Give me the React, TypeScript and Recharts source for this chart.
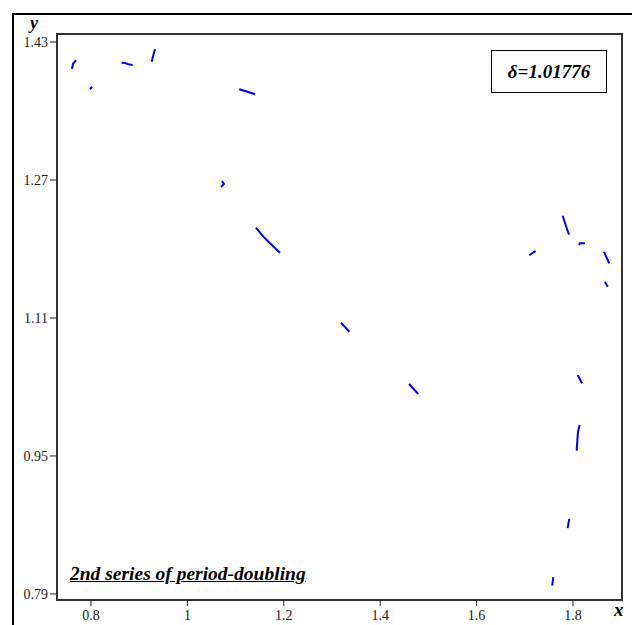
import { LineChart, Line, XAxis, YAxis, ReferenceArea } from "recharts";

// axis setup
const X_TICKS = [0.8, 1, 1.2, 1.4, 1.6, 1.8];
const Y_TICKS = [0.79, 0.95, 1.11, 1.27, 1.43];
const X_DOMAIN: [number, number] = [0.7295, 1.9017];
const Y_DOMAIN: [number, number] = [0.783, 1.4393];

// short curve pieces of the bifurcation diagram
const seg01 = [{ x: 0.7689, y: 1.4091 }, { x: 0.7627, y: 1.4045 }, { x: 0.7606, y: 1.3987 }];
const seg02 = [{ x: 0.8021, y: 1.3782 }, { x: 0.7979, y: 1.3751 }];
const seg03 = [{ x: 0.8637, y: 1.406 }, { x: 0.8714, y: 1.4057 }, { x: 0.8776, y: 1.4041 }, { x: 0.8865, y: 1.4033 }];
const seg04 = [{ x: 0.9328, y: 1.4215 }, { x: 0.9295, y: 1.415 }, { x: 0.9259, y: 1.4072 }];
const seg05 = [{ x: 1.1077, y: 1.3752 }, { x: 1.1245, y: 1.3724 }, { x: 1.1402, y: 1.3694 }];
const seg06 = [{ x: 1.0718, y: 1.2688 }, { x: 1.0759, y: 1.2654 }, { x: 1.0697, y: 1.2619 }];
const seg07 = [{ x: 1.1423, y: 1.2147 }, { x: 1.1575, y: 1.2043 }, { x: 1.1714, y: 1.1966 }, { x: 1.1921, y: 1.1857 }];
const seg08 = [{ x: 1.3187, y: 1.1046 }, { x: 1.3359, y: 1.0941 }];
const seg09 = [{ x: 1.4598, y: 1.0335 }, { x: 1.479, y: 1.0219 }];
const seg10 = [{ x: 1.7094, y: 1.183 }, { x: 1.7226, y: 1.1877 }];
const seg11 = [{ x: 1.7786, y: 1.2286 }, { x: 1.7851, y: 1.2172 }, { x: 1.7917, y: 1.2066 }];
const seg12 = [{ x: 1.8124, y: 1.1946 }, { x: 1.8145, y: 1.1967 }, { x: 1.8249, y: 1.1967 }];
const seg13 = [{ x: 1.8643, y: 1.1867 }, { x: 1.8698, y: 1.18 }, { x: 1.8753, y: 1.1734 }];
const seg14 = [{ x: 1.8664, y: 1.1521 }, { x: 1.872, y: 1.1463 }];
const seg15 = [{ x: 1.8097, y: 1.0439 }, { x: 1.8187, y: 1.0343 }];
const seg16 = [{ x: 1.8139, y: 0.986 }, { x: 1.8104, y: 0.9782 }, { x: 1.8089, y: 0.9666 }, { x: 1.8077, y: 0.9561 }];
const seg17 = [{ x: 1.7923, y: 0.877 }, { x: 1.7889, y: 0.8663 }];
const seg18 = [{ x: 1.7591, y: 0.8094 }, { x: 1.757, y: 0.7998 }];

const SEGMENTS = [
  seg01, seg02, seg03, seg04, seg05, seg06, seg07, seg08, seg09,
  seg10, seg11, seg12, seg13, seg14, seg15, seg16, seg17, seg18,
];

const SERIF = "'Liberation Serif', 'Times New Roman', serif";

export default function App() {
  return (
    <div style={{ position: "fixed", left: 0, top: 0, width: 632, height: 625, overflow: "hidden", background: "#fff" }}>
      {/* outer frame, runs off the right and bottom edges */}
      <div style={{ position: "absolute", left: 12, top: 13, width: 700, height: 700, border: "2px solid #000" }} />

      <LineChart width={632} height={625} margin={{ top: 34, right: 10, left: 0, bottom: 0 }}
        style={{ position: "absolute", left: 0, top: 0 }}>
        <XAxis
          dataKey="x"
          type="number"
          domain={X_DOMAIN}
          ticks={X_TICKS}
          allowDataOverflow
          height={25}
          axisLine={false}
          tickLine={{ stroke: "#222" }}
          tickSize={6}
          tickMargin={4}
          tick={{ fontSize: 14, fontFamily: SERIF, fill: "#222" }}
        />
        <YAxis
          dataKey="y"
          type="number"
          domain={Y_DOMAIN}
          ticks={Y_TICKS}
          allowDataOverflow
          width={57}
          axisLine={false}
          tickLine={{ stroke: "#222" }}
          tickSize={7}
          tickMargin={2}
          tick={{ fontSize: 14, fontFamily: SERIF, fill: "#222" }}
        />
        <ReferenceArea x1={X_DOMAIN[0]} x2={X_DOMAIN[1]} y1={Y_DOMAIN[0]} y2={Y_DOMAIN[1]}
          fill="none" fillOpacity={0} stroke="#333" strokeWidth={2} />
        {SEGMENTS.map((seg, i) => (
          <Line key={i} data={seg} dataKey="y" type="linear" stroke="#0000ff" strokeWidth={2}
            dot={false} activeDot={false} isAnimationActive={false} />
        ))}
      </LineChart>

      <div style={{ position: "absolute", left: 30, top: 13, fontFamily: SERIF, fontStyle: "italic", fontWeight: "bold", fontSize: 18 }}>y</div>
      <div style={{ position: "absolute", left: 614, top: 599, fontFamily: SERIF, fontStyle: "italic", fontWeight: "bold", fontSize: 19 }}>x</div>

      <div style={{
        position: "absolute", left: 491, top: 50, width: 114, height: 41, border: "1.5px solid #000",
        display: "flex", alignItems: "center", justifyContent: "center",
        fontFamily: SERIF, fontStyle: "italic", fontWeight: "bold", fontSize: 19,
      }}>
        δ=1.01776
      </div>

      <div style={{
        position: "absolute", left: 70, top: 563, fontFamily: SERIF, fontStyle: "italic", fontWeight: "bold",
        fontSize: 19.5, textDecoration: "underline", whiteSpace: "nowrap",
      }}>
        2nd series of period-doubling
      </div>
    </div>
  );
}
